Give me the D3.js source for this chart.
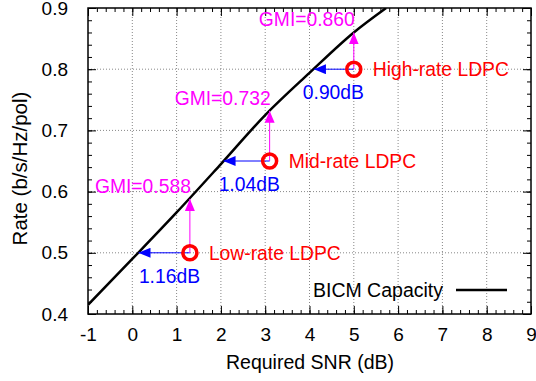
<!DOCTYPE html>
<html>
<head>
<meta charset="utf-8">
<script src="https://cdn.jsdelivr.net/npm/d3@7"></script>
<style>
  body { margin: 0; background: #fff; }
  text { font-family: "Liberation Sans", Arial, sans-serif; }
</style>
</head>
<body>
<div id="chart"></div>
<script>
// BICM capacity curve
const capSnr = [-1, 0, 1, 2, 3, 4, 5, 5.73]
const capRate = [0.415, 0.49, 0.566, 0.645, 0.725, 0.794, 0.86, 0.9]

// LDPC operating points
const codeNames = ["Low-rate LDPC", "Mid-rate LDPC", "High-rate LDPC"]
const codeSnr = [1.3, 3.1, 5.0]
const codeRate = [0.5, 0.65, 0.8]
const gapDb = [1.16, 1.04, 0.90]
const gmi = [0.588, 0.732, 0.860]

const xTicks = [-1, 0, 1, 2, 3, 4, 5, 6, 7, 8, 9]
const yTicks = [0.4, 0.5, 0.6, 0.7, 0.8, 0.9]

const W = 536, H = 381
const MARGIN = { TOP: 8, BOTTOM: 67, LEFT: 88, RIGHT: 5 }
const WIDTH = W - MARGIN.LEFT - MARGIN.RIGHT
const HEIGHT = H - MARGIN.TOP - MARGIN.BOTTOM

const svg = d3.select("#chart")
  .append("svg")
    .attr("width", W)
    .attr("height", H)

const defs = svg.append("defs")
const addHead = (id, color) => {
  defs.append("marker")
    .attr("id", id)
    .attr("viewBox", "0 0 12 10")
    .attr("refX", 12)
    .attr("refY", 5)
    .attr("markerWidth", 12)
    .attr("markerHeight", 10)
    .attr("markerUnits", "userSpaceOnUse")
    .attr("orient", "auto")
  .append("path")
    .attr("d", "M0,0 L12,5 L0,10 Z")
    .attr("fill", color)
}
addHead("headBlue", "#0000ff")
addHead("headMag", "#ff00ff")

defs.append("clipPath").attr("id", "clip")
  .append("rect").attr("width", WIDTH).attr("height", HEIGHT)

const g = svg.append("g")
  .attr("transform", `translate(${MARGIN.LEFT}, ${MARGIN.TOP})`)

const x = d3.scaleLinear().domain([-1, 9]).range([0, WIDTH])
const y = d3.scaleLinear().domain([0.4, 0.9]).range([HEIGHT, 0])

// grid
g.append("g").selectAll("line")
  .data(xTicks.slice(1, -1))
  .enter().append("line")
    .attr("x1", d => x(d)).attr("x2", d => x(d))
    .attr("y1", 0).attr("y2", HEIGHT)
    .attr("stroke", "#888").attr("stroke-width", 1)
    .attr("stroke-dasharray", "1,2")
g.append("g").selectAll("line")
  .data(yTicks.slice(1, -1))
  .enter().append("line")
    .attr("y1", d => y(d)).attr("y2", d => y(d))
    .attr("x1", 0).attr("x2", WIDTH)
    .attr("stroke", "#888").attr("stroke-width", 1)
    .attr("stroke-dasharray", "1,2")

// axes with inward ticks
const fs = "19px"
const xMinor = d3.range(-1, 9.001, 0.2)
const yMinor = d3.range(0.4, 0.9001, 0.02)

const xAxis = g.append("g")
  .attr("transform", `translate(0, ${HEIGHT})`)
  .call(d3.axisBottom(x).tickValues(xTicks).tickSize(-8).tickPadding(14).tickFormat(d => String(d).replace("\u2212", "-")))
xAxis.selectAll("text").attr("font-size", fs).attr("fill", "#000")
g.append("g").attr("transform", `translate(0, ${HEIGHT})`)
  .call(d3.axisBottom(x).tickValues(xMinor).tickSize(-4).tickFormat(""))
g.append("g")
  .call(d3.axisTop(x).tickValues(xTicks).tickSize(-8).tickFormat(""))
g.append("g")
  .call(d3.axisTop(x).tickValues(xMinor).tickSize(-4).tickFormat(""))

const yAxis = g.append("g")
  .call(d3.axisLeft(y).tickValues(yTicks).tickSize(-8).tickPadding(20).tickFormat(d3.format(".1f")))
yAxis.selectAll("text").attr("font-size", fs).attr("fill", "#000")
g.append("g")
  .call(d3.axisLeft(y).tickValues(yMinor).tickSize(-4).tickFormat(""))
g.append("g").attr("transform", `translate(${WIDTH}, 0)`)
  .call(d3.axisRight(y).tickValues(yTicks).tickSize(-8).tickFormat(""))
g.append("g").attr("transform", `translate(${WIDTH}, 0)`)
  .call(d3.axisRight(y).tickValues(yMinor).tickSize(-4).tickFormat(""))

g.selectAll(".domain").remove()
g.selectAll(".tick line").attr("stroke", "#000")

g.append("rect")
  .attr("width", WIDTH).attr("height", HEIGHT)
  .attr("fill", "none").attr("stroke", "#000").attr("stroke-width", 1.5)

// axis titles
g.append("text")
  .attr("x", (227 + 393) / 2 - MARGIN.LEFT)
  .attr("y", 368.5 - MARGIN.TOP)
  .attr("text-anchor", "middle")
  .attr("font-size", "19.5px")
  .text("Required SNR (dB)")
g.append("text")
  .attr("transform", `translate(${26.5 - MARGIN.LEFT}, ${168.5 - MARGIN.TOP}) rotate(-90)`)
  .attr("text-anchor", "middle")
  .attr("font-size", "20.5px")
  .text("Rate (b/s/Hz/pol)")

// capacity curve
const capData = capSnr.map((s, i) => ({ s, r: capRate[i] }))
g.append("path")
  .datum(capData)
  .attr("clip-path", "url(#clip)")
  .attr("fill", "none")
  .attr("stroke", "#000")
  .attr("stroke-width", 2.5)
  .attr("d", d3.line().x(d => x(d.s)).y(d => y(d.r)).curve(d3.curveMonotoneX))

// operating points
const pts = codeNames.map((name, i) => ({
  name, s: codeSnr[i], r: codeRate[i], gap: gapDb[i], gmi: gmi[i]
}))

const annot = g.append("g").selectAll("g").data(pts).enter().append("g")

annot.append("line")
  .attr("x1", d => x(d.s)).attr("y1", d => y(d.r))
  .attr("x2", d => x(d.s - d.gap)).attr("y2", d => y(d.r))
  .attr("stroke", "#0000ff").attr("stroke-width", 1)
  .attr("marker-end", "url(#headBlue)")
annot.append("line")
  .attr("x1", d => x(d.s)).attr("y1", d => y(d.r))
  .attr("x2", d => x(d.s)).attr("y2", d => y(d.gmi))
  .attr("stroke", "#ff00ff").attr("stroke-width", 1)
  .attr("marker-end", "url(#headMag)")
annot.append("circle")
  .attr("cx", d => x(d.s)).attr("cy", d => y(d.r))
  .attr("r", 7)
  .attr("fill", "none").attr("stroke", "#ff0000").attr("stroke-width", 3.5)

const afs = "19.3px"
annot.append("text")
  .attr("x", d => x(d.s) + 19).attr("y", d => y(d.r))
  .attr("dy", "0.35em")
  .attr("font-size", afs).attr("fill", "#ff0000")
  .text(d => d.name)
annot.append("text")
  .attr("x", d => x(d.s) + 1).attr("y", d => y(d.gmi) - 6)
  .attr("text-anchor", "end")
  .attr("font-size", afs).attr("fill", "#ff00ff")
  .text(d => `GMI=${d.gmi.toFixed(3)}`)
annot.append("text")
  .attr("x", d => x(d.s) - 51).attr("y", d => y(d.r) + 30)
  .attr("font-size", afs).attr("fill", "#0000ff")
  .text(d => `${d.gap.toFixed(2)}dB`)

// legend
const lg = g.append("g")
lg.append("text")
  .attr("x", 443 - MARGIN.LEFT).attr("y", 297 - MARGIN.TOP)
  .attr("text-anchor", "end")
  .attr("font-size", "19.5px")
  .text("BICM Capacity")
lg.append("line")
  .attr("x1", 456 - MARGIN.LEFT).attr("x2", 507 - MARGIN.LEFT)
  .attr("y1", 290 - MARGIN.TOP).attr("y2", 290 - MARGIN.TOP)
  .attr("stroke", "#000").attr("stroke-width", 2.5)
</script>
</body>
</html>
